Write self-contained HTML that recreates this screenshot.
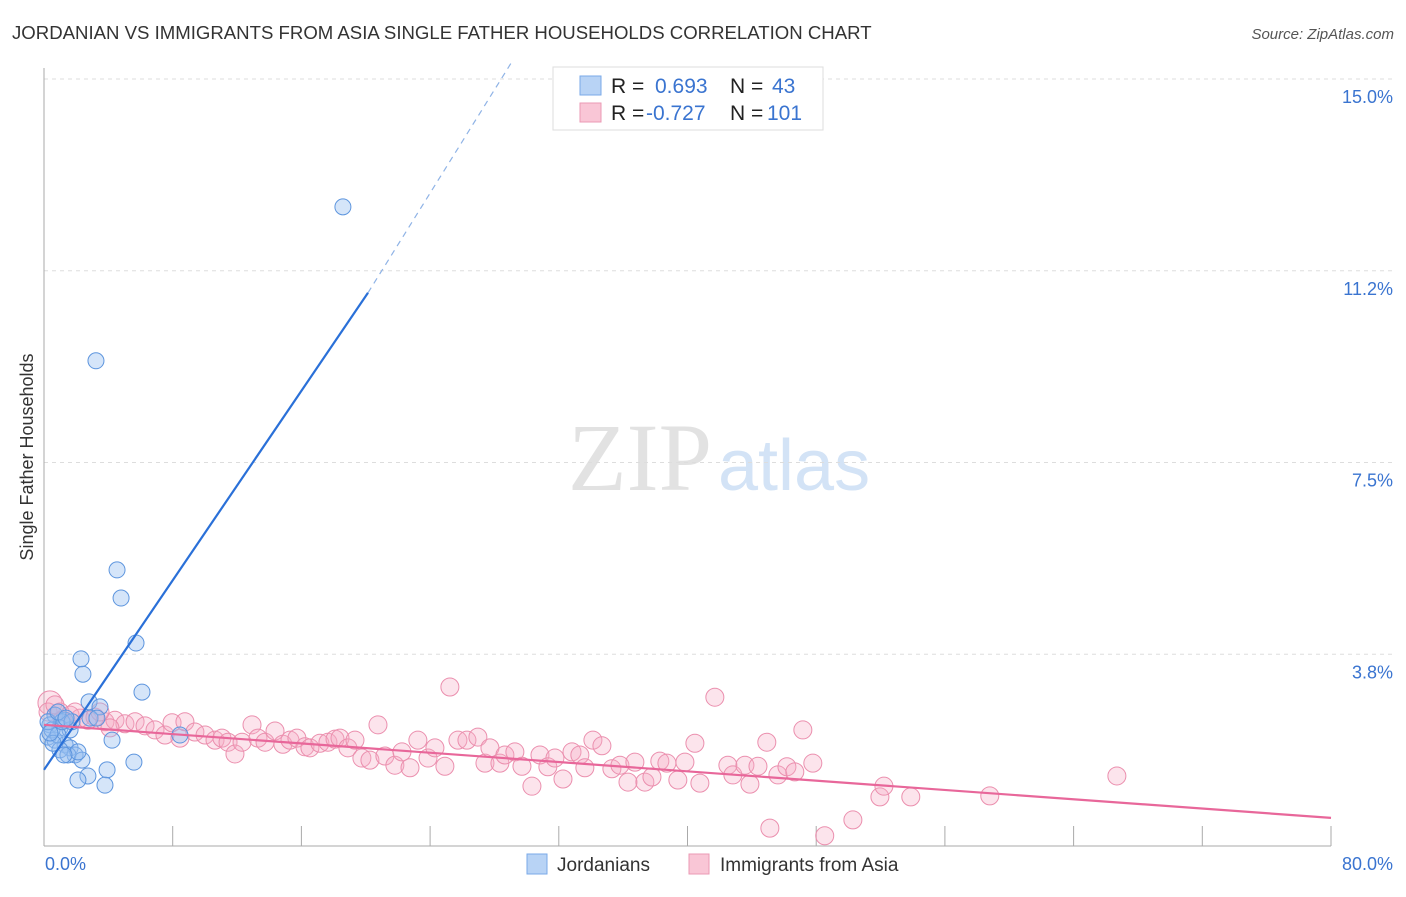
<!DOCTYPE html>
<html><head><meta charset="utf-8"><style>
body{margin:0;background:#fff;font-family:"Liberation Sans",sans-serif}
</style></head><body>
<svg width="1406" height="892" xmlns="http://www.w3.org/2000/svg" id="chart">
<text x="12" y="39" font-size="18.6" fill="#333">JORDANIAN VS IMMIGRANTS FROM ASIA SINGLE FATHER HOUSEHOLDS CORRELATION CHART</text>
<text x="1394" y="39" font-size="15" fill="#555" font-style="italic" text-anchor="end">Source: ZipAtlas.com</text>
<text x="712" y="490" font-size="96" fill="#e2e2e2" text-anchor="end" font-family="Liberation Serif,serif">ZIP</text>
<text x="718" y="490" font-size="72" fill="#d3e3f6">atlas</text>
<g id="grid"></g>
<line x1="44" y1="68" x2="44" y2="846" stroke="#aaa"/>
<line x1="44" y1="846" x2="1331" y2="846" stroke="#aaa"/>
<text x="33" y="457" font-size="18" fill="#333" text-anchor="middle" transform="rotate(-90 33 457)">Single Father Households</text>
<text x="45" y="870" font-size="18" fill="#3a74d0">0.0%</text>
<text x="1393" y="870" font-size="18" fill="#3a74d0" text-anchor="end">80.0%</text>
<g id="points"></g>
<g id="lines"></g>
<g>
<rect x="553" y="67" width="270" height="63" fill="#fff" stroke="#ddd"/>
<rect x="580" y="76" width="21" height="19" fill="#b8d3f5" stroke="#7aaae8"/>
<rect x="580" y="103" width="21" height="19" fill="#f9c6d6" stroke="#eb9ab4"/>
<text x="611" y="93" font-size="21" fill="#222">R =</text>
<text x="655" y="93" font-size="21" fill="#3a74d0">0.693</text>
<text x="730" y="93" font-size="21" fill="#222">N =</text>
<text x="772" y="93" font-size="21" fill="#3a74d0">43</text>
<text x="611" y="120" font-size="21" fill="#222">R =</text>
<text x="646" y="120" font-size="21" fill="#3a74d0">-0.727</text>
<text x="730" y="120" font-size="21" fill="#222">N =</text>
<text x="767" y="120" font-size="21" fill="#3a74d0">101</text>
</g>
<g>
<rect x="527" y="854" width="20" height="20" fill="#b8d3f5" stroke="#7aaae8"/>
<text x="557" y="871" font-size="19" fill="#333">Jordanians</text>
<rect x="689" y="854" width="20" height="20" fill="#f9c6d6" stroke="#eb9ab4"/>
<text x="720" y="871" font-size="19" fill="#333">Immigrants from Asia</text>
</g>
</svg>
<script>
const yTicks=[3.75,7.5,11.25,15];
const yTickLabels=["3.8%","7.5%","11.2%","15.0%"];
const xTicks=[0,8,16,24,32,40,48,56,64,72,80];
const jordX=[18.58,3.23,4.54,4.79,5.72,2.30,2.42,6.09,2.80,3.48,0.68,2.86,3.29,1.31,0.37,0.99,1.62,0.25,0.68,4.23,8.45,1.31,1.62,0.99,1.93,1.49,2.36,5.59,3.92,2.73,2.11,3.79,0.50,0.87,1.12,1.74,2.11,1.24,0.25,0.56,0.87,1.37,0.37];
const jordY=[12.5,9.49,5.40,4.85,3.97,3.66,3.36,3.01,2.82,2.72,2.56,2.50,2.50,2.46,2.37,2.31,2.27,2.13,2.07,2.07,2.17,1.98,1.92,1.88,1.78,1.78,1.68,1.64,1.49,1.37,1.29,1.19,2.27,2.17,2.43,2.43,1.84,1.78,2.43,2.01,2.62,2.50,2.21];
const asiaX=[0.37,1.00,1.62,2.24,2.73,3.17,3.79,4.41,5.03,5.66,6.28,6.90,7.52,7.96,8.45,8.76,9.38,10.01,10.63,11.06,11.44,11.87,12.31,12.93,13.30,13.74,14.36,14.85,15.29,15.72,16.22,16.53,17.15,17.65,18.09,18.40,18.89,19.33,19.76,20.26,20.76,21.19,21.81,22.25,22.75,23.24,23.87,24.30,24.92,25.23,25.73,26.29,26.97,27.41,27.72,28.34,28.65,29.27,29.71,30.33,30.83,31.32,31.76,32.26,32.82,33.31,33.62,34.12,34.68,35.30,35.80,36.30,36.73,37.35,37.79,38.28,38.72,39.40,39.84,40.46,40.77,41.70,42.51,42.82,43.57,43.88,44.38,44.93,45.62,46.18,46.67,47.17,47.79,45.12,48.53,50.28,51.96,52.21,53.88,58.79,66.69,0.25,0.68,1.12,1.93,3.48,4.10];
const asiaY=[2.80,2.62,2.56,2.50,2.46,2.52,2.43,2.46,2.39,2.43,2.35,2.27,2.17,2.41,2.11,2.43,2.23,2.17,2.07,2.11,2.03,1.80,2.03,2.37,2.11,2.03,2.25,1.99,2.07,2.11,1.94,1.92,2.01,2.03,2.09,2.11,1.92,2.07,1.72,1.68,2.37,1.76,1.58,1.84,1.53,2.07,1.72,1.92,1.56,3.11,2.07,2.07,2.13,1.62,1.92,1.62,1.78,1.84,1.56,1.17,1.78,1.55,1.72,1.31,1.84,1.78,1.53,2.07,1.96,1.51,1.58,1.25,1.64,1.25,1.35,1.66,1.62,1.29,1.64,2.01,1.23,2.91,1.58,1.39,1.58,1.21,1.56,2.03,1.39,1.55,1.45,2.27,1.62,0.35,0.20,0.51,0.96,1.17,0.96,0.98,1.37,2.62,2.76,2.46,2.62,2.62,2.31];
const jordTrend=[[0,1.49],[20.14,10.82]];
const jordTrendExt=[[20.14,10.82],[29.09,15.34]];
const asiaTrend=[[0,2.37],[80,0.55]];
const NS="http://www.w3.org/2000/svg";
function xs(v){return 44+v*16.0875;}
function ys(v){return 846-v*51.13;}
function mk(t,a,p){const e=document.createElementNS(NS,t);for(const k in a)e.setAttribute(k,a[k]);p.appendChild(e);return e;}
const grid=document.getElementById('grid');
yTicks.forEach((t,i)=>{
 const l=mk('line',{x1:44,x2:1394,y1:ys(t),y2:ys(t),stroke:'#ddd','stroke-dasharray':'4,4'},grid);
 
 
 const tx=mk('text',{x:1393,y:ys(t)+24,'font-size':18,fill:'#3a74d0','text-anchor':'end'},grid);
 tx.textContent=yTickLabels[i];
 
 
});
xTicks.forEach(t=>{
 if(t===0)return;
 const l=mk('line',{x1:xs(t),x2:xs(t),y1:826,y2:846,stroke:'#aaa'},grid);
 
 
});
const pts=document.getElementById('points');
asiaX.forEach((v,i)=>{
 const c=mk('circle',{cx:xs(v),cy:ys(asiaY[i]),r:i===0?12:9,fill:'rgba(246,170,196,0.32)',stroke:'#eb8fae','stroke-width':1},pts);
 
 
});
jordX.forEach((v,i)=>{
 const c=mk('circle',{cx:xs(v),cy:ys(jordY[i]),r:8,fill:'rgba(150,190,240,0.4)',stroke:'#5d95de','stroke-width':1},pts);
 
 
});
const ln=document.getElementById('lines');
let e=mk('line',{x1:xs(jordTrend[0][0]),y1:ys(jordTrend[0][1]),x2:xs(jordTrend[1][0]),y2:ys(jordTrend[1][1]),stroke:'#2a70d8','stroke-width':2.2},ln);


e=mk('line',{x1:xs(jordTrendExt[0][0]),y1:ys(jordTrendExt[0][1]),x2:xs(jordTrendExt[1][0]),y2:ys(jordTrendExt[1][1]),stroke:'#8fb3e6','stroke-width':1.2,'stroke-dasharray':'6,5'},ln);


e=mk('line',{x1:xs(asiaTrend[0][0]),y1:ys(asiaTrend[0][1]),x2:xs(asiaTrend[1][0]),y2:ys(asiaTrend[1][1]),stroke:'#e8679a','stroke-width':2.2},ln);


</script>
</body></html>
